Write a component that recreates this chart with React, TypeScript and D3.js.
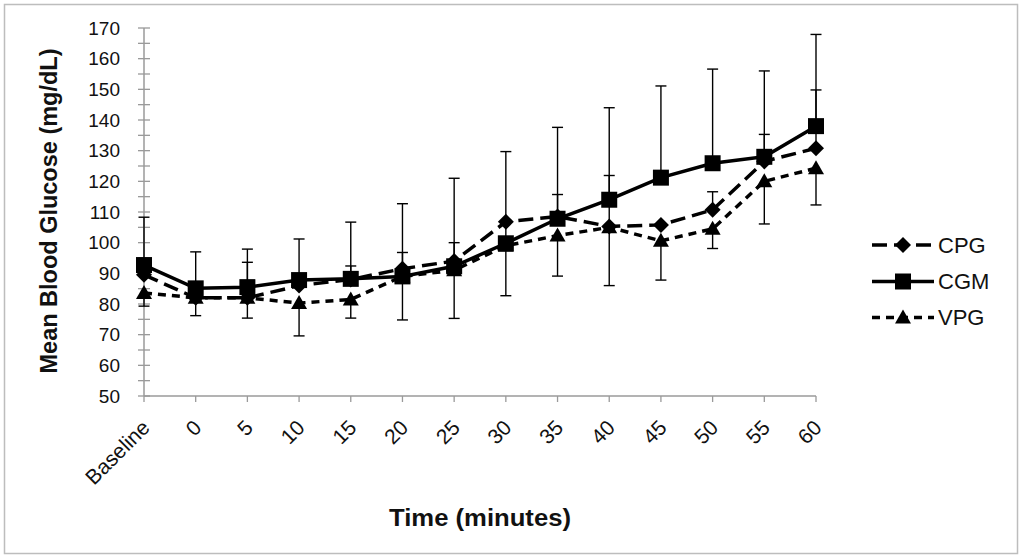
import { useEffect, useRef } from "react"
import * as d3 from "d3"

// x categories (minutes)
const categories = ["Baseline", "0", "5", "10", "15", "20", "25", "30", "35", "40", "45", "50", "55", "60"]

// mean blood glucose, mg/dL
const cpg = [89.5, 82, 82, 86, 88, 91.5, 94, 106.8, 108.5, 105.3, 105.8, 110.7, 126.5, 130.8]
const cgm = [92.7, 85.1, 85.5, 87.8, 88.2, 89.0, 92.3, 99.8, 107.8, 114.0, 121.2, 125.9, 128.0, 138.0]
const vpg = [83.6, 82, 82, 80.3, 81.5, 89, 91, 99, 102.3, 105, 100.6, 104.5, 120, 124.3]

// error bars: CGM plus, CPG plus, VPG minus (null = hidden behind a marker)
const cgmPlus = [15.6, 11.9, 12.4, 13.4, 18.5, 23.7, 28.7, 29.9, 29.8, 30, 29.9, 30.7, 28, 29.9]
const cpgPlus: (number | null)[] = [null, null, 11.6, null, 4.4, 5.3, 6, null, 7.2, 16.6, null, 5.9, 8.8, 19]
const vpgMinus = [4.3, 5.8, 6.6, 10.7, 6.1, 14.2, 15.7, 16.3, 13.2, 19, 12.8, 6.4, 13.9, 12]

const yTicks = d3.range(50, 171, 10)
const yMinor = d3.range(55, 170, 10)

const W = 1024
const H = 557
const FONT = "'Liberation Sans', Arial, sans-serif"

type Marker = "diamond" | "square" | "triangle"

const series: { name: string; values: number[]; dash: string; marker: Marker }[] = [
  { name: "CPG", values: cpg, dash: "15,7", marker: "diamond" },
  { name: "CGM", values: cgm, dash: "none", marker: "square" },
  { name: "VPG", values: vpg, dash: "8,6", marker: "triangle" },
]

function markerPath(m: Marker) {
  if (m === "square") return "M-8,-8H8V8H-8Z"
  if (m === "diamond") return "M0,-8L8,0L0,8L-8,0Z"
  return "M0,-8L8,6H-8Z"
}

export default function App() {
  const svgRef = useRef<SVGSVGElement>(null)

  useEffect(() => {
    if (!svgRef.current) return
    const svg = d3.select(svgRef.current)
    svg.selectAll("*").remove()

    const x = d3.scalePoint<string>().domain(categories).range([144, 816])
    const y = d3.scaleLinear().domain([50, 170]).range([396, 28])

    // outer frame
    svg.append("rect")
      .attr("x", 4.5).attr("y", 4.5)
      .attr("width", 1013).attr("height", 549)
      .attr("fill", "#fff")
      .attr("stroke", "#bdbdbd")
      .attr("stroke-width", 1.5)

    const axisColor = "#9a9a9a"

    // y axis
    svg.append("line")
      .attr("x1", x("Baseline")!).attr("x2", x("Baseline")!)
      .attr("y1", y(170)).attr("y2", y(50))
      .attr("stroke", axisColor).attr("stroke-width", 1.5)

    svg.selectAll(".ytick")
      .data([...yTicks, ...yMinor])
      .enter()
      .append("line")
      .attr("x1", 138).attr("x2", 150)
      .attr("y1", d => y(d)).attr("y2", d => y(d))
      .attr("stroke", axisColor).attr("stroke-width", 1.3)

    svg.selectAll(".ylabel")
      .data(yTicks)
      .enter()
      .append("text")
      .attr("x", 120)
      .attr("y", d => y(d))
      .attr("dy", "0.35em")
      .attr("text-anchor", "end")
      .attr("font-family", FONT)
      .attr("font-size", 19)
      .attr("fill", "#111")
      .text(d => d)

    // x axis
    svg.append("line")
      .attr("x1", x("Baseline")!).attr("x2", x("60")!)
      .attr("y1", y(50)).attr("y2", y(50))
      .attr("stroke", axisColor).attr("stroke-width", 1.5)

    svg.selectAll(".xtick")
      .data(categories)
      .enter()
      .append("line")
      .attr("x1", d => x(d)!).attr("x2", d => x(d)!)
      .attr("y1", y(50)).attr("y2", y(50) + 6)
      .attr("stroke", axisColor).attr("stroke-width", 1.3)

    svg.selectAll(".xlabel")
      .data(categories)
      .enter()
      .append("text")
      .attr("transform", d => `translate(${x(d)! + 7},${y(50) + 33}) rotate(-45)`)
      .attr("text-anchor", "end")
      .attr("font-family", FONT)
      .attr("font-size", 21)
      .attr("fill", "#111")
      .text(d => d)

    // axis titles
    svg.append("text")
      .attr("transform", `translate(57,211) rotate(-90)`)
      .attr("text-anchor", "middle")
      .attr("font-family", FONT)
      .attr("font-size", 23)
      .attr("font-weight", "bold")
      .attr("fill", "#111")
      .attr("textLength", 325)
      .attr("lengthAdjust", "spacingAndGlyphs")
      .text("Mean Blood Glucose (mg/dL)")

    svg.append("text")
      .attr("x", (x("Baseline")! + x("60")!) / 2)
      .attr("y", 526)
      .attr("text-anchor", "middle")
      .attr("font-family", FONT)
      .attr("font-size", 23)
      .attr("font-weight", "bold")
      .attr("fill", "#111")
      .attr("textLength", 182)
      .attr("lengthAdjust", "spacingAndGlyphs")
      .text("Time (minutes)")

    // error bars
    const bars: { c: string; from: number; to: number }[] = []
    categories.forEach((c, i) => {
      bars.push({ c, from: cgm[i], to: cgm[i] + cgmPlus[i] })
      if (cpgPlus[i] != null) bars.push({ c, from: cpg[i], to: cpg[i] + (cpgPlus[i] as number) })
      bars.push({ c, from: vpg[i], to: vpg[i] - vpgMinus[i] })
    })
    const eb = svg.append("g").attr("stroke", "#000").attr("stroke-width", 1.4)
    eb.selectAll(".ebv").data(bars).enter().append("line")
      .attr("x1", d => x(d.c)!).attr("x2", d => x(d.c)!)
      .attr("y1", d => y(d.from)).attr("y2", d => y(d.to))
    eb.selectAll(".ebc").data(bars).enter().append("line")
      .attr("x1", d => x(d.c)! - 5.5).attr("x2", d => x(d.c)! + 5.5)
      .attr("y1", d => y(d.to)).attr("y2", d => y(d.to))

    // lines and markers
    const line = d3.line<number>()
      .x((_, i) => x(categories[i])!)
      .y(d => y(d))

    series.forEach(s => {
      svg.append("path")
        .datum(s.values)
        .attr("d", line)
        .attr("fill", "none")
        .attr("stroke", "#000")
        .attr("stroke-width", 3.5)
        .attr("stroke-dasharray", s.dash)
    })
    series.forEach(s => {
      svg.selectAll(`.m-${s.name}`)
        .data(s.values)
        .enter()
        .append("path")
        .attr("transform", (d, i) => `translate(${x(categories[i])},${y(d)})`)
        .attr("d", markerPath(s.marker))
        .attr("fill", "#000")
    })

    // legend
    const legY = [245, 281.5, 317.5]
    series.forEach((s, i) => {
      const g = svg.append("g").attr("transform", `translate(0,${legY[i]})`)
      g.append("line")
        .attr("x1", 872).attr("x2", 934)
        .attr("stroke", "#000").attr("stroke-width", 3.5)
        .attr("stroke-dasharray", s.dash)
      g.append("path")
        .attr("transform", "translate(903,0)")
        .attr("d", markerPath(s.marker))
        .attr("fill", "#000")
      g.append("text")
        .attr("x", 938)
        .attr("dy", "0.36em")
        .attr("font-family", FONT)
        .attr("font-size", 22)
        .attr("fill", "#111")
        .text(s.name)
    })
  }, [])

  return (
    <svg
      ref={svgRef}
      width={W}
      height={H}
      style={{ position: "absolute", left: 0, top: 0, background: "#fff" }}
    />
  )
}
